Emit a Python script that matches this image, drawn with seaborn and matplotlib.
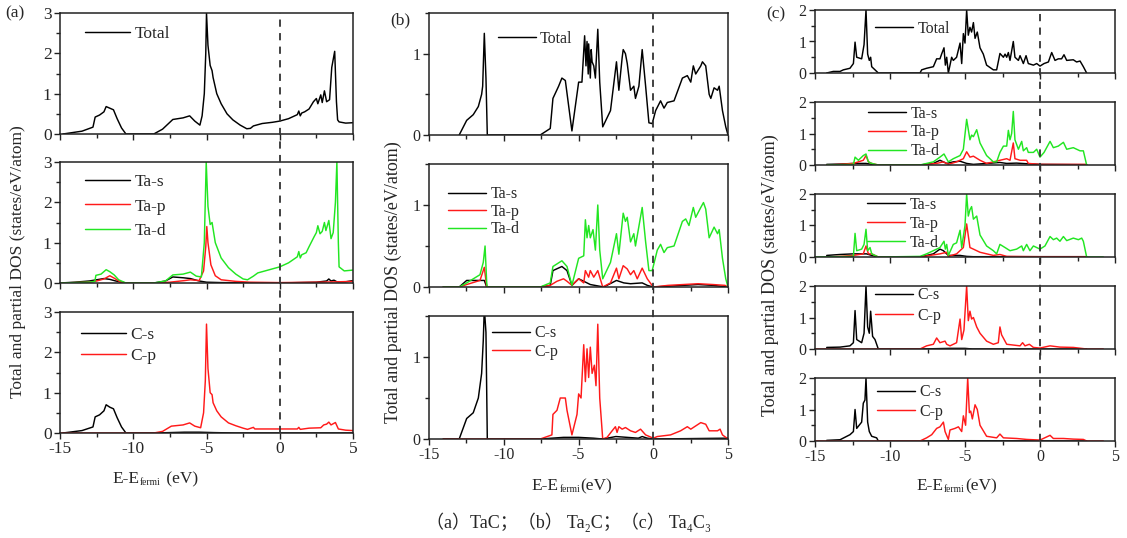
import matplotlib
matplotlib.use("Agg")
import matplotlib.pyplot as plt
import matplotlib.transforms as mtrans
from matplotlib.lines import Line2D
from matplotlib.ticker import MultipleLocator
from matplotlib.offsetbox import TextArea, HPacker, AnchoredOffsetbox
import pandas as pd
import seaborn as sns

# ---------------- (a) TaC : (energy eV, DOS states/eV/atom) ----------------
tac_total = [(-14.8, 0.0), (-13.5, 0.07), (-12.75, 0.17), (-12.6, 0.42), (-12.3, 0.47), (-12.0, 0.55),
             (-11.85, 0.68), (-11.6, 0.64), (-11.35, 0.6), (-11.1, 0.38), (-10.8, 0.15), (-10.5, 0.0),
             (-8.6, 0.0), (-8.0, 0.12), (-7.3, 0.36), (-6.6, 0.4), (-6.15, 0.45), (-5.8, 0.32),
             (-5.45, 0.22), (-5.3, 0.45), (-5.15, 1.0), (-5.05, 2.0), (-5.0, 3.0), (-4.9, 2.2),
             (-4.75, 1.7), (-4.62, 1.57), (-4.55, 1.4), (-4.3, 1.0), (-4.0, 0.75), (-3.6, 0.5),
             (-3.2, 0.35), (-2.7, 0.22), (-2.25, 0.13), (-2.0, 0.14), (-1.8, 0.2), (-1.2, 0.26),
             (-0.5, 0.29), (0.0, 0.32), (0.6, 0.38), (1.2, 0.48), (1.3, 0.57), (1.4, 0.45), (1.5, 0.52),
             (1.7, 0.55), (2.0, 0.62), (2.3, 0.8), (2.5, 0.88), (2.6, 0.75), (2.8, 0.97), (2.9, 0.78),
             (3.05, 1.07), (3.2, 0.8), (3.4, 0.85), (3.55, 1.65), (3.75, 2.05), (3.87, 0.8),
             (3.95, 0.35), (4.05, 0.3), (4.5, 0.27), (5.0, 0.28)]
tac_ta_s = [(-15, 0.0), (-14, 0.02), (-13, 0.05), (-12.5, 0.08), (-12.0, 0.11), (-11.6, 0.09), (-11.2, 0.05),
            (-10.5, 0.0), (-8.6, 0.0), (-7.8, 0.05), (-7.3, 0.15), (-6.6, 0.13), (-6.1, 0.11), (-5.5, 0.05),
            (-5.0, 0.02), (-4.0, 0.01), (0.0, 0.0), (2.5, 0.02), (3.2, 0.05), (3.35, 0.1), (3.5, 0.05),
            (3.7, 0.07), (3.9, 0.03), (4.5, 0.03), (5.0, 0.06)]
tac_ta_p = [(-15, 0.0), (-13, 0.02), (-12.5, 0.05), (-12.0, 0.1), (-11.6, 0.18), (-11.3, 0.12), (-10.9, 0.03),
            (-10.5, 0.0), (-8.6, 0.0), (-7.5, 0.02), (-6.5, 0.06), (-6.1, 0.08), (-5.5, 0.06), (-5.2, 0.3),
            (-5.05, 0.9), (-4.98, 1.4), (-4.9, 1.0), (-4.7, 0.45), (-4.4, 0.18), (-4.0, 0.08), (-3.0, 0.04),
            (-2.0, 0.02), (0.0, 0.01), (2.5, 0.02), (4.0, 0.03), (5.0, 0.04)]
tac_ta_d = [(-15, 0.0), (-13, 0.02), (-12.62, 0.04), (-12.55, 0.19), (-12.2, 0.22), (-11.85, 0.33),
            (-11.6, 0.28), (-11.3, 0.2), (-11.0, 0.08), (-10.5, 0.0), (-8.6, 0.0), (-7.8, 0.05), (-7.3, 0.2),
            (-6.6, 0.22), (-6.1, 0.27), (-5.7, 0.17), (-5.35, 0.15), (-5.15, 1.0), (-5.02, 3.0), (-4.9, 1.9),
            (-4.75, 1.45), (-4.62, 1.5), (-4.4, 1.0), (-4.0, 0.62), (-3.5, 0.38), (-3.0, 0.22), (-2.5, 0.1),
            (-2.2, 0.08), (-1.8, 0.17), (-1.5, 0.25), (-1.0, 0.3), (-0.5, 0.35), (0.0, 0.4), (0.6, 0.5),
            (1.2, 0.65), (1.3, 0.78), (1.4, 0.62), (1.5, 0.7), (1.8, 0.75), (2.0, 0.9), (2.35, 1.15),
            (2.5, 1.25), (2.6, 1.42), (2.75, 1.22), (2.9, 1.28), (3.05, 1.5), (3.15, 1.3), (3.35, 1.55),
            (3.5, 1.1), (3.65, 1.25), (3.8, 2.0), (3.9, 3.0), (4.0, 1.0), (4.05, 0.4), (4.4, 0.3), (5.0, 0.32)]
tac_c_s = [(-14.8, 0.0), (-13.5, 0.06), (-12.75, 0.15), (-12.6, 0.4), (-12.3, 0.45), (-12.0, 0.55),
           (-11.85, 0.7), (-11.6, 0.64), (-11.35, 0.6), (-11.1, 0.38), (-10.8, 0.15), (-10.5, 0.0),
           (-8.6, 0.0), (-7.5, 0.01), (-6.5, 0.02), (-5.5, 0.02), (-4.5, 0.01), (-3.0, 0.0), (5.0, 0.0)]
tac_c_p = [(-15, 0.0), (-10.5, 0.0), (-8.6, 0.0), (-8.0, 0.04), (-7.4, 0.17), (-6.6, 0.2), (-6.15, 0.25),
           (-5.8, 0.17), (-5.4, 0.13), (-5.2, 0.5), (-5.08, 1.3), (-5.0, 2.7), (-4.9, 1.6), (-4.75, 1.0),
           (-4.62, 0.95), (-4.55, 0.75), (-4.3, 0.55), (-4.0, 0.4), (-3.5, 0.25), (-3.0, 0.18), (-2.5, 0.12),
           (-2.2, 0.09), (-1.8, 0.14), (-1.7, 0.1), (-1.0, 0.1), (0.0, 0.1), (1.2, 0.1), (1.3, 0.14),
           (1.4, 0.09), (2.0, 0.12), (2.8, 0.13), (3.0, 0.2), (3.2, 0.22), (3.35, 0.27), (3.5, 0.2),
           (3.8, 0.26), (4.0, 0.1), (4.5, 0.07), (5.0, 0.06)]

# ---------------- (b) Ta2C ----------------
ta2c_total = [(-12.98, 0.0), (-12.48, 0.18), (-12.04, 0.25), (-11.7, 0.35), (-11.48, 0.5), (-11.41, 0.6),
              (-11.3, 1.25), (-11.19, 0.7), (-11.1, 0.0), (-7.56, 0.0), (-6.89, 0.08), (-6.71, 0.45),
              (-6.33, 0.6), (-6.11, 0.7), (-5.88, 0.67), (-5.44, 0.05), (-4.99, 0.65), (-4.77, 0.65),
              (-4.59, 1.22), (-4.5, 0.85), (-4.43, 1.15), (-4.35, 0.75), (-4.32, 1.12), (-4.21, 0.7),
              (-4.15, 1.05), (-4.09, 0.9), (-3.98, 0.85), (-3.87, 0.7), (-3.71, 1.3), (-3.58, 0.65),
              (-3.38, 0.1), (-2.86, 0.3), (-2.46, 0.9), (-2.3, 0.55), (-2.08, 0.95), (-2.01, 1.05),
              (-1.86, 1.0), (-1.74, 0.88), (-1.52, 0.55), (-1.3, 0.6), (-1.19, 0.45), (-0.96, 0.6),
              (-0.74, 1.05), (-0.51, 0.6), (-0.29, 0.15), (-0.07, 0.14), (0.16, 0.3), (0.49, 0.42),
              (0.72, 0.33), (0.94, 0.4), (1.39, 0.42), (1.95, 0.7), (2.28, 0.73), (2.51, 0.65), (2.68, 0.85),
              (2.84, 0.75), (3.18, 0.85), (3.29, 0.9), (3.51, 0.85), (3.74, 0.5), (3.85, 0.45), (4.07, 0.58),
              (4.3, 0.55), (4.41, 0.6), (4.63, 0.3), (4.85, 0.1), (5.0, 0.0)]
ta2c_ta_s = [(-14.05, 0.0), (-12.98, 0.0), (-12.48, 0.08), (-11.59, 0.08), (-11.3, 0.08), (-11.14, 0.0),
             (-7.56, 0.0), (-6.89, 0.02), (-6.71, 0.2), (-6.11, 0.25), (-5.77, 0.2), (-5.44, 0.02),
             (-4.99, 0.1), (-4.65, 0.07), (-4.21, 0.03), (-3.31, 0.0), (-2.46, 0.08), (-1.97, 0.05),
             (-1.52, 0.04), (-0.74, 0.05), (-0.4, 0.02), (0.0, 0.0), (2.0, 0.02), (3.0, 0.03), (4.0, 0.02),
             (5.0, 0.0)]
ta2c_ta_p = [(-14.05, 0.0), (-12.98, 0.0), (-12.48, 0.03), (-11.59, 0.08), (-11.3, 0.24), (-11.14, 0.0),
             (-7.56, 0.0), (-6.89, 0.02), (-6.44, 0.07), (-6.0, 0.1), (-5.77, 0.07), (-5.44, 0.02),
             (-4.99, 0.1), (-4.65, 0.05), (-4.54, 0.2), (-4.32, 0.12), (-4.21, 0.2), (-3.98, 0.12),
             (-3.71, 0.2), (-3.38, 0.0), (-2.86, 0.05), (-2.46, 0.23), (-2.3, 0.1), (-2.01, 0.26),
             (-1.74, 0.22), (-1.52, 0.15), (-1.3, 0.2), (-1.07, 0.1), (-0.74, 0.23), (-0.4, 0.1), (0.0, 0.0),
             (1.0, 0.02), (2.0, 0.03), (3.0, 0.04), (4.0, 0.03), (4.8, 0.02), (5.0, 0.0)]
ta2c_ta_d = [(-14.05, 0.0), (-12.98, 0.0), (-12.48, 0.05), (-11.59, 0.15), (-11.37, 0.3), (-11.25, 0.5),
             (-11.14, 0.05), (-11.1, 0.0), (-7.56, 0.0), (-6.89, 0.05), (-6.71, 0.25), (-6.11, 0.32),
             (-5.77, 0.25), (-5.44, 0.02), (-4.99, 0.35), (-4.65, 0.38), (-4.54, 0.82), (-4.43, 0.6),
             (-4.32, 0.75), (-4.21, 0.6), (-4.03, 0.7), (-3.87, 0.45), (-3.71, 1.0), (-3.58, 0.45),
             (-3.38, 0.1), (-2.86, 0.3), (-2.46, 0.65), (-2.3, 0.4), (-2.01, 0.9), (-1.86, 0.8),
             (-1.74, 0.85), (-1.52, 0.55), (-1.3, 0.65), (-1.19, 0.5), (-0.74, 0.97), (-0.51, 0.55),
             (-0.29, 0.2), (-0.07, 0.2), (0.27, 0.45), (0.49, 0.52), (0.72, 0.42), (0.94, 0.48), (1.39, 0.5),
             (1.95, 0.8), (2.17, 0.83), (2.39, 0.75), (2.68, 0.97), (2.84, 0.85), (3.18, 0.97), (3.36, 1.03),
             (3.51, 0.95), (3.74, 0.6), (4.07, 0.73), (4.3, 0.65), (4.41, 0.7), (4.63, 0.35), (4.85, 0.1),
             (5.0, 0.0)]
ta2c_c_s = [(-14.05, 0.0), (-12.98, 0.0), (-12.48, 0.25), (-12.04, 0.32), (-11.7, 0.5), (-11.48, 0.8),
            (-11.37, 1.2), (-11.3, 1.6), (-11.19, 1.3), (-11.1, 0.0), (-7.56, 0.0), (-6.0, 0.02), (-5.0, 0.02),
            (-4.0, 0.01), (-3.38, 0.0), (-2.5, 0.03), (-1.0, 0.01), (-0.74, 0.03), (-0.4, 0.01), (0.0, 0.0),
            (5.0, 0.01)]
ta2c_c_p = [(-14.05, 0.0), (-7.56, 0.0), (-6.78, 0.05), (-6.71, 0.3), (-6.44, 0.35), (-6.22, 0.5),
            (-5.88, 0.5), (-5.77, 0.35), (-5.44, 0.05), (-5.1, 0.3), (-4.99, 0.55), (-4.83, 0.5),
            (-4.65, 1.15), (-4.54, 0.7), (-4.43, 1.1), (-4.32, 0.75), (-4.21, 1.12), (-4.09, 0.8),
            (-3.94, 0.9), (-3.83, 0.65), (-3.71, 1.4), (-3.58, 0.5), (-3.38, 0.0), (-3.09, 0.02),
            (-2.75, 0.1), (-2.53, 0.15), (-2.42, 0.08), (-2.3, 0.15), (-2.08, 0.12), (-1.86, 0.14),
            (-1.52, 0.1), (-1.19, 0.08), (-0.85, 0.12), (-0.51, 0.05), (0.0, 0.01), (0.27, 0.03),
            (1.16, 0.05), (1.83, 0.1), (2.28, 0.15), (2.51, 0.12), (3.18, 0.2), (3.51, 0.18), (3.74, 0.1),
            (4.3, 0.1), (4.47, 0.12), (4.63, 0.05), (5.0, 0.0)]

# ---------------- (c) Ta4C3 ----------------
ta4c3_total = [(-14.22, 0.0), (-13.78, 0.05), (-13.33, 0.05), (-13.11, 0.1), (-12.67, 0.15), (-12.44, 0.3),
               (-12.33, 0.98), (-12.22, 0.5), (-11.89, 0.45), (-11.73, 0.9), (-11.6, 2.0), (-11.49, 0.6),
               (-11.38, 0.4), (-11.29, 0.5), (-11.22, 0.2), (-11.11, 0.15), (-10.78, 0.0), (-8.0, 0.0),
               (-7.89, 0.1), (-7.56, 0.15), (-7.11, 0.2), (-6.89, 0.45), (-6.67, 0.45), (-6.56, 0.6),
               (-6.4, 0.8), (-6.31, 0.25), (-6.22, 0.5), (-6.11, 0.0), (-5.89, 0.5), (-5.78, 0.4),
               (-5.56, 0.5), (-5.33, 0.95), (-5.22, 0.3), (-5.11, 1.25), (-5.0, 0.95), (-4.89, 2.0),
               (-4.78, 1.2), (-4.67, 1.45), (-4.56, 1.3), (-4.44, 1.6), (-4.33, 1.1), (-4.18, 1.3),
               (-4.0, 0.8), (-3.78, 0.6), (-3.56, 0.25), (-3.11, 0.1), (-2.89, 0.1), (-2.67, 0.62),
               (-2.44, 0.5), (-2.33, 0.6), (-2.22, 0.5), (-2.11, 0.65), (-2.0, 0.4), (-1.78, 1.0),
               (-1.67, 0.5), (-1.44, 0.4), (-1.33, 0.55), (-1.11, 0.3), (-0.93, 0.55), (-0.78, 0.3),
               (-0.44, 0.25), (-0.22, 0.3), (0.0, 0.22), (0.27, 0.3), (0.56, 0.35), (0.78, 0.65), (1.0, 0.4),
               (1.22, 0.45), (1.44, 0.45), (1.6, 0.58), (1.78, 0.4), (2.22, 0.42), (2.44, 0.35), (2.67, 0.38),
               (2.89, 0.2), (3.11, 0.0)]
ta4c3_ta1_s = [(-14.22, 0.02), (-13.33, 0.03), (-12.44, 0.05), (-11.6, 0.05), (-11.22, 0.02), (-10.78, 0.0),
               (-8.0, 0.0), (-7.11, 0.05), (-6.67, 0.15), (-6.22, 0.05), (-5.78, 0.1), (-5.33, 0.12),
               (-4.89, 0.05), (-4.44, 0.02), (-2.67, 0.08), (-2.22, 0.05), (-1.56, 0.06), (-0.89, 0.04),
               (0.0, 0.02), (3.11, 0.01)]
ta4c3_ta1_p = [(-14.22, 0.0), (-13.33, 0.02), (-12.44, 0.05), (-11.78, 0.15), (-11.6, 0.3), (-11.44, 0.1),
               (-11.22, 0.05), (-10.78, 0.0), (-8.0, 0.0), (-6.89, 0.05), (-6.44, 0.1), (-6.11, 0.02),
               (-5.56, 0.1), (-5.11, 0.2), (-4.89, 0.42), (-4.67, 0.25), (-4.44, 0.28), (-4.0, 0.15),
               (-3.56, 0.05), (-2.67, 0.15), (-2.22, 0.2), (-2.0, 0.15), (-1.78, 0.7), (-1.67, 0.2),
               (-1.33, 0.15), (-0.89, 0.15), (-0.78, 0.05), (0.0, 0.02), (3.11, 0.02)]
ta4c3_ta1_d = [(-14.22, 0.0), (-12.44, 0.02), (-12.33, 0.25), (-12.11, 0.15), (-11.78, 0.3), (-11.6, 0.35),
               (-11.44, 0.1), (-11.22, 0.05), (-10.78, 0.0), (-8.0, 0.0), (-7.11, 0.1), (-6.67, 0.25),
               (-6.4, 0.35), (-6.11, 0.1), (-5.78, 0.2), (-5.33, 0.3), (-5.11, 0.5), (-4.89, 1.45),
               (-4.67, 0.8), (-4.56, 0.95), (-4.44, 0.9), (-4.22, 1.12), (-4.0, 0.7), (-3.78, 0.5),
               (-3.56, 0.3), (-3.11, 0.1), (-2.89, 0.1), (-2.67, 0.4), (-2.44, 0.6), (-2.22, 0.6),
               (-2.11, 1.1), (-2.0, 0.8), (-1.89, 1.0), (-1.78, 1.7), (-1.67, 0.8), (-1.44, 0.5),
               (-1.22, 0.75), (-1.11, 0.45), (-0.89, 0.55), (-0.78, 0.4), (-0.44, 0.4), (-0.22, 0.5),
               (0.0, 0.25), (0.27, 0.4), (0.67, 0.75), (0.89, 0.55), (1.22, 0.6), (1.56, 0.72), (1.78, 0.5),
               (2.22, 0.55), (2.67, 0.45), (2.89, 0.45), (3.11, 0.0)]
ta4c3_ta2_s = [(-14.22, 0.05), (-13.33, 0.08), (-12.44, 0.1), (-11.56, 0.1), (-11.22, 0.05), (-10.78, 0.0),
               (-8.0, 0.0), (-7.11, 0.1), (-6.67, 0.25), (-6.44, 0.2), (-6.11, 0.05), (-5.33, 0.05),
               (-4.89, 0.02), (-4.44, 0.01), (3.11, 0.01)]
ta4c3_ta2_p = [(-14.22, 0.0), (-13.33, 0.02), (-12.44, 0.05), (-11.78, 0.1), (-11.6, 0.35), (-11.44, 0.1),
               (-11.22, 0.1), (-10.78, 0.0), (-8.0, 0.0), (-6.67, 0.1), (-6.22, 0.15), (-6.11, 0.02),
               (-5.56, 0.1), (-5.11, 0.3), (-4.89, 1.05), (-4.67, 0.3), (-4.44, 0.25), (-4.0, 0.15),
               (-3.11, 0.05), (-2.67, 0.08), (-2.22, 0.02), (0.0, 0.01), (3.11, 0.01)]
ta4c3_ta2_d = [(-15.0, 0.0), (-12.44, 0.02), (-12.33, 0.75), (-12.22, 0.2), (-11.89, 0.25), (-11.73, 0.4),
               (-11.6, 0.88), (-11.49, 0.2), (-11.33, 0.3), (-11.22, 0.1), (-10.78, 0.0), (-8.0, 0.02),
               (-7.56, 0.1), (-6.89, 0.25), (-6.67, 0.3), (-6.4, 0.5), (-6.31, 0.25), (-6.22, 0.4),
               (-6.11, 0.05), (-5.78, 0.4), (-5.56, 0.45), (-5.33, 0.85), (-5.22, 0.3), (-5.0, 1.0),
               (-4.89, 2.0), (-4.78, 1.3), (-4.67, 1.5), (-4.56, 1.6), (-4.44, 1.2), (-4.22, 1.3), (-4.0, 0.7),
               (-3.56, 0.35), (-3.11, 0.2), (-2.89, 0.1), (-2.67, 0.4), (-2.33, 0.3), (-2.0, 0.2),
               (-1.56, 0.25), (-1.22, 0.35), (-1.11, 0.2), (-0.89, 0.4), (-0.67, 0.2), (-0.44, 0.35),
               (-0.22, 0.3), (0.0, 0.25), (0.33, 0.35), (0.67, 0.65), (0.89, 0.55), (1.11, 0.6), (1.33, 0.5),
               (1.56, 0.65), (1.78, 0.52), (2.22, 0.6), (2.56, 0.55), (2.78, 0.6), (2.89, 0.5), (3.11, 0.0),
               (4.22, 0.0)]
ta4c3_c1_s = [(-14.22, 0.05), (-13.33, 0.06), (-12.67, 0.1), (-12.44, 0.2), (-12.33, 1.22), (-12.22, 0.3),
              (-11.89, 0.2), (-11.73, 0.5), (-11.6, 2.0), (-11.49, 0.7), (-11.38, 0.5), (-11.29, 1.2),
              (-11.16, 0.4), (-11.0, 0.3), (-10.78, 0.0), (-8.0, 0.0), (-6.0, 0.02), (-5.0, 0.02), (-4.5, 0.0),
              (3.11, 0.0)]
ta4c3_c1_p = [(-15.0, 0.0), (-8.0, 0.0), (-7.56, 0.1), (-7.11, 0.15), (-6.89, 0.35), (-6.67, 0.2),
              (-6.33, 0.25), (-6.22, 0.15), (-6.0, 0.1), (-5.56, 0.2), (-5.33, 0.95), (-5.22, 0.3),
              (-5.07, 0.6), (-4.89, 2.0), (-4.78, 0.9), (-4.67, 1.2), (-4.56, 0.95), (-4.44, 1.0),
              (-4.22, 0.7), (-4.0, 0.5), (-3.56, 0.25), (-3.11, 0.15), (-2.78, 0.2), (-2.67, 0.7),
              (-2.56, 0.45), (-2.22, 0.15), (-1.33, 0.1), (-1.16, 0.2), (-1.0, 0.1), (-0.71, 0.15),
              (-0.44, 0.05), (0.0, 0.03), (0.67, 0.1), (1.33, 0.06), (2.22, 0.05), (3.11, 0.0), (4.22, 0.0)]
ta4c3_c2_s = [(-14.22, 0.02), (-13.33, 0.04), (-13.0, 0.12), (-12.67, 0.2), (-12.44, 0.3), (-12.33, 1.0),
              (-12.22, 0.4), (-11.89, 0.6), (-11.78, 1.2), (-11.67, 1.3), (-11.6, 2.0), (-11.49, 0.6),
              (-11.38, 0.3), (-11.22, 0.15), (-10.89, 0.1), (-10.78, 0.0), (-8.0, 0.0), (-5.0, 0.01),
              (3.11, 0.0)]
ta4c3_c2_p = [(-15.0, 0.0), (-8.0, 0.0), (-7.56, 0.1), (-7.22, 0.2), (-6.89, 0.4), (-6.67, 0.45),
              (-6.44, 0.6), (-6.33, 0.3), (-6.11, 0.05), (-6.0, 0.35), (-5.67, 0.4), (-5.44, 0.45),
              (-5.22, 0.3), (-5.11, 0.8), (-4.96, 0.5), (-4.82, 2.0), (-4.71, 0.9), (-4.62, 0.95),
              (-4.51, 0.7), (-4.33, 1.15), (-4.18, 1.0), (-4.0, 0.5), (-3.56, 0.15), (-2.89, 0.1),
              (-2.67, 0.22), (-2.44, 0.1), (-1.56, 0.08), (-0.89, 0.05), (0.0, 0.03), (0.67, 0.18),
              (0.89, 0.08), (1.56, 0.08), (2.22, 0.06), (2.89, 0.05), (3.11, 0.0), (4.22, 0.0)]

x_ticks = [-15, -10, -5, 0, 5]
x_tick_labels = ["-15", "-10", "-5", "0", "5"]

BLACK, RED, GREEN = "#000000", "#ff1a1a", "#22e622"
SERIF = "Liberation Serif"

sns.set_style("ticks")
plt.rcParams["font.family"] = [SERIF, "Noto Sans CJK SC", "DejaVu Sans"]
plt.rcParams["axes.unicode_minus"] = False

W, H = 1127, 538
fig = plt.figure(figsize=(W / 100, H / 100), dpi=100)


def axes_px(left, top, right, bottom):
    return fig.add_axes([left / W, 1 - bottom / H, (right - left) / W, (bottom - top) / H])


def draw(ax, pts, color, label):
    df = pd.DataFrame(pts, columns=["E", "DOS"])
    sns.lineplot(data=df, x="E", y="DOS", ax=ax, color=color, lw=1.05, label=label,
                 estimator=None, sort=False)


def style(ax, ymax, ymajor, fs, show_x):
    ax.set_xlim(-15, 5)
    ax.set_ylim(0, ymax)
    ax.set_xticks(x_ticks)
    ax.xaxis.set_minor_locator(MultipleLocator(2.5))
    ax.yaxis.set_major_locator(MultipleLocator(ymajor))
    ax.yaxis.set_minor_locator(MultipleLocator(ymajor / 2))
    ax.tick_params(which="both", direction="out", top=False, right=False, color="#222222", width=1.0)
    ax.tick_params(which="major", length=4, labelsize=fs, pad=2)
    ax.tick_params(which="minor", length=3)
    if show_x:
        ax.set_xticklabels(x_tick_labels)
    else:
        ax.set_xticklabels([])
    ax.set_xlabel("")
    ax.set_ylabel("")
    for s in ax.spines.values():
        s.set_linewidth(1.1)
        s.set_color("#222222")


def legend(ax, x, y, fs, spacing, hl=2.6):
    ax.legend(loc="upper left", bbox_to_anchor=(x, y), frameon=False, fontsize=fs,
              handlelength=hl, handletextpad=0.25, labelspacing=spacing,
              borderpad=0, borderaxespad=0)


def fermi_line(axes_list):
    top, bot = axes_list[0], axes_list[-1]
    trans = mtrans.blended_transform_factory(top.transData, fig.transFigure)
    y0 = bot.get_position().y0
    y1 = top.get_position().y1
    fig.add_artist(Line2D([0, 0], [y0, y1], transform=trans, color="#333333",
                          lw=1.3, linestyle=(0, (4, 3.5)), zorder=5))


def energy_label(xc, yc, fs, gap):
    """E-E_fermi (eV) with a small lowered 'fermi' subscript."""
    parts = [TextArea("E-E", textprops=dict(fontsize=fs, family=SERIF)),
             TextArea("fermi", textprops=dict(fontsize=fs * 0.55, family=SERIF)),
             TextArea(gap + "(eV)", textprops=dict(fontsize=fs, family=SERIF))]
    box = HPacker(children=parts, align="bottom", pad=0, sep=0.5)
    anchored = AnchoredOffsetbox(loc="center", child=box, pad=0, borderpad=0, frameon=False,
                                 bbox_to_anchor=(xc / W, 1 - yc / H), bbox_transform=fig.transFigure)
    fig.add_artist(anchored)


# ---------- column (a): TaC ----------
a1 = axes_px(60, 13, 353, 134)
a2 = axes_px(60, 162, 353, 283)
a3 = axes_px(60, 312, 353, 433)
draw(a1, tac_total, BLACK, "Total")
draw(a2, tac_ta_s, BLACK, "Ta-s")
draw(a2, tac_ta_p, RED, "Ta-p")
draw(a2, tac_ta_d, GREEN, "Ta-d")
draw(a3, tac_c_s, BLACK, "C-s")
draw(a3, tac_c_p, RED, "C-p")
for ax, lab in [(a1, False), (a2, False), (a3, True)]:
    style(ax, 3, 1, 12.5, lab)
legend(a1, 0.085, 0.89, 12.5, 0.3)
legend(a2, 0.085, 0.90, 12.5, 0.47)
legend(a3, 0.07, 0.88, 12.5, 0.32)
fermi_line([a1, a2, a3])

# ---------- column (b): Ta2C ----------
b1 = axes_px(429, 13, 728, 135)
b2 = axes_px(429, 164, 728, 287)
b3 = axes_px(429, 316, 728, 439)
draw(b1, ta2c_total, BLACK, "Total")
draw(b2, ta2c_ta_s, BLACK, "Ta-s")
draw(b2, ta2c_ta_p, RED, "Ta-p")
draw(b2, ta2c_ta_d, GREEN, "Ta-d")
draw(b3, ta2c_c_s, BLACK, "C-s")
draw(b3, ta2c_c_p, RED, "C-p")
for ax, lab in [(b1, False), (b2, False), (b3, True)]:
    style(ax, 1.5, 1, 11.5, lab)
legend(b1, 0.23, 0.852, 11.5, 0.2, hl=2.4)
legend(b2, 0.064, 0.82, 11.5, 0.1, hl=2.4)
legend(b3, 0.21, 0.925, 11.5, 0.17, hl=2.4)
fermi_line([b1, b2, b3])

# ---------- column (c): Ta4C3 ----------
c_tops = [10, 102, 194, 286, 378]
cax = [axes_px(815, t, 1115, t + 63) for t in c_tops]
draw(cax[0], ta4c3_total, BLACK, "Total")
draw(cax[1], ta4c3_ta1_s, BLACK, "Ta-s")
draw(cax[1], ta4c3_ta1_p, RED, "Ta-p")
draw(cax[1], ta4c3_ta1_d, GREEN, "Ta-d")
draw(cax[2], ta4c3_ta2_s, BLACK, "Ta-s")
draw(cax[2], ta4c3_ta2_p, RED, "Ta-p")
draw(cax[2], ta4c3_ta2_d, GREEN, "Ta-d")
draw(cax[3], ta4c3_c1_s, BLACK, "C-s")
draw(cax[3], ta4c3_c1_p, RED, "C-p")
draw(cax[4], ta4c3_c2_s, BLACK, "C-s")
draw(cax[4], ta4c3_c2_p, RED, "C-p")
for i, ax in enumerate(cax):
    style(ax, 2, 1, 11.5, i == len(cax) - 1)
legend(cax[0], 0.2, 0.83, 11.5, 0.05, hl=2.4)
legend(cax[1], 0.177, 0.94, 11.5, 0.17, hl=2.4)
legend(cax[2], 0.173, 0.96, 11.5, 0.2, hl=2.4)
legend(cax[3], 0.2, 0.98, 11.5, 0.28, hl=2.4)
legend(cax[4], 0.207, 0.90, 11.5, 0.22, hl=2.4)
fermi_line(cax)

# ---------- shared text ----------
ylab = "Total and partial DOS (states/eV/atom)"
fig.text(18 / W, 1 - 262 / H, ylab, rotation=90, ha="center", va="center", fontsize=12.5)
fig.text(393 / W, 1 - 282 / H, ylab, rotation=90, ha="center", va="center", fontsize=13)
fig.text(770 / W, 1 - 275 / H, ylab, rotation=90, ha="center", va="center", fontsize=13)

energy_label(155, 479, 12.5, " ")
energy_label(572, 486, 12.5, "")
energy_label(957, 486, 12.5, "")

fig.text(15 / W, 1 - 13 / H, "(a)", ha="center", va="center", fontsize=12.5)
fig.text(400 / W, 1 - 20 / H, "(b)", ha="center", va="center", fontsize=12.5)
fig.text(776 / W, 1 - 14 / H, "(c)", ha="center", va="center", fontsize=12.5)

fig.text(569 / W, 1 - 522 / H, "（a）TaC；（b） Ta₂C；（c） Ta₄C₃", ha="center", va="center", fontsize=13)

fig.savefig("out.png", dpi=100)
